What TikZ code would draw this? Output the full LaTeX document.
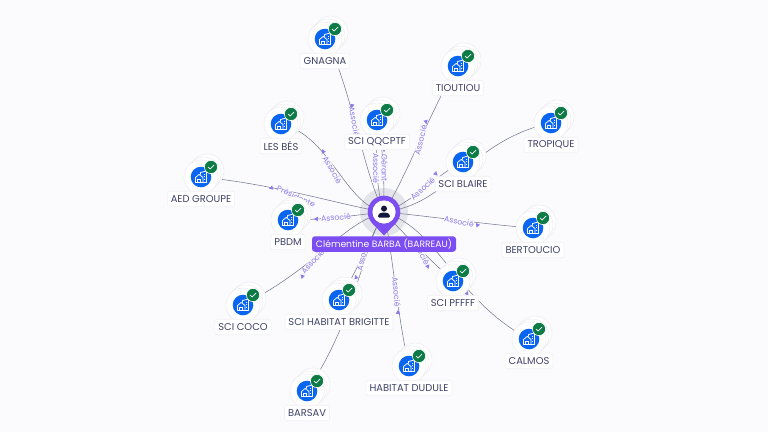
\documentclass[tikz,border=0pt]{standalone}
\usepackage{fontspec}
\setmainfont{Poppins}
\definecolor{bgc}{HTML}{FBFBFE}
\definecolor{edgec}{HTML}{787C92}
\definecolor{purp}{HTML}{7C4DF0}
\definecolor{elab}{HTML}{8E7AE8}
\definecolor{txtc}{HTML}{3D4266}
\definecolor{bluec}{HTML}{0A66F0}
\definecolor{greenc}{HTML}{0C7B46}
\definecolor{haloc}{HTML}{E4E5EA}
\definecolor{ringc}{HTML}{EEEEF2}
\definecolor{shadc}{HTML}{F1F1F5}
\definecolor{navyc}{HTML}{10183C}
\tikzset{
  conn/.style={draw=edgec,line width=.55pt},
  elabel/.style={text=elab,font=\fontsize{7.8}{8}\selectfont,inner sep=0pt,fill=bgc,text height=5.6pt,text depth=.6pt},
  entlabel/.style={text=txtc,font=\fontsize{9.9}{10}\selectfont,fill=white,rounded corners=2.5pt,inner xsep=3.5pt,minimum height=15.5pt,inner ysep=0pt,
     draw=shadc,line width=.6pt},
  stackc/.style={fill=white,draw=ringc,line width=.6pt},
}
% arrow mark: x, y, clockwise angle
\newcommand{\amark}[3]{\fill[elab,shift={(#1,#2)},rotate=#3] (-1.8,-2.2)--(2.2,0)--(-1.8,2.2)--cycle;}
% entity card: id, x, y, label
\newcommand{\cardx}[4]{%
  \begin{scope}[shift={(#2,#3)}]
    \filldraw[stackc] (6,-6) circle (17);
    \filldraw[stackc] (3,-3) circle (17);
    \filldraw[stackc] (0,0) circle (17);
    \fill[bluec] (0,0) circle (10.3);
    \draw[white,line width=.75pt,line join=round] (-5.5,5.5)--(-5.5,.5)--(-1.8,-2.6)--(2,.5)--(2,5.5)--cycle;
    \draw[white,line width=.75pt] (-3.2,5.5)--(-3.2,2.2)--(-.2,2.2)--(-.2,5.5);
    \draw[white,line width=.75pt,line join=round] (-.5,-2.5)--(-.5,-4.5)--(5.5,-6)--(5.5,5.5)--(2,5.5);
    \draw[white,line width=.7pt] (3.2,-2.8)--(4.4,-2.8) (3.2,-.4)--(4.4,-.4) (3.2,2)--(4.4,2);
    \filldraw[fill=greenc,draw=white,line width=.6pt] (10,-10) circle (6.6);
    \draw[white,line width=.7pt,line cap=round,line join=round] (7.2,-9.8)--(9.2,-8)--(13,-12);
  \end{scope}
  \node[entlabel] (#1l) at (#2,#3+22) {#4};
}
\begin{document}
\begin{tikzpicture}[x=1pt,y=-1pt]
\useasboundingbox (0,0) rectangle (768,432);
\fill[bgc] (0,0) rectangle (768,432);
\fill[haloc] (384,212) circle (24);
\coordinate (P) at (384,212);
\coordinate (gn) at (325,39);
\coordinate (ti) at (458,66);
\coordinate (qq) at (377,120);
\coordinate (le) at (281,124);
\coordinate (tr) at (551,123);
\coordinate (bl) at (463,162);
\coordinate (ae) at (201,177);
\coordinate (pb) at (288,220);
\coordinate (be) at (533,228);
\coordinate (pf) at (453,281);
\coordinate (ca) at (529,339);
\coordinate (co) at (243,305);
\coordinate (br) at (339,300);
\coordinate (du) at (409,366);
\coordinate (ba) at (307,391);
% connectors
\draw[conn] (P) .. controls (362,170) and (350,80) .. (gn);
\draw[conn] (P) .. controls (410,170) and (430,110) .. (ti);
\draw[conn] (P) .. controls (376,190) and (376,160) .. (qq);
\draw[conn] (P) .. controls (384,185) and (384,150) .. (qq);
\draw[conn] (P) .. controls (345,205) and (330,135) .. (le);
\draw[conn] (P) .. controls (410,205) and (435,175) .. (bl);
\draw[conn] (P) .. controls (450,205) and (470,140) .. (tr);
\draw[conn] (P) .. controls (340,205) and (280,185) .. (ae);
\draw[conn] (P) .. controls (350,216) and (320,220) .. (pb);
\draw[conn] (P) .. controls (340,225) and (320,265) .. (co);
\draw[conn] (P) .. controls (372,235) and (355,275) .. (br);
\draw[conn] (P) .. controls (362,250) and (355,320) .. (ba);
\draw[conn] (P) .. controls (392,250) and (398,320) .. (du);
\draw[conn] (P) .. controls (400,230) and (425,255) .. (pf);
\draw[conn] (P) .. controls (440,230) and (455,300) .. (ca);
\draw[conn] (P) .. controls (420,215) and (490,225) .. (be);
% connector labels
\node[elabel,rotate=-80] (l1) at (354,122) {Associé};
\node[elabel,rotate=76] (l2) at (421,140) {Associé};
\node[elabel,rotate=-90] (l3) at (375.5,168) {Associé};
\node[elabel,rotate=-90] (l4) at (384,168) {Gérant};
\node[elabel,rotate=-60] (l5) at (332,170) {Associé};
\node[elabel,rotate=42] (l6) at (423,189) {Associé};
\node[elabel,rotate=-24] (l7) at (296,197) {Présidente};
\node[elabel,rotate=5] (l8) at (336,218) {Associé};
\node[elabel,rotate=48] (l9) at (313,262) {Associé};
\node[elabel,rotate=78] (l10) at (363,256) {Associé};
\node[elabel,rotate=-85] (l11) at (396,292) {Associé};
\node[elabel,rotate=-62] (l12) at (420,251) {Associé};
\node[elabel,rotate=-10] (l13) at (459,222) {Associé};
% arrow marks
\amark{352}{106}{-100}
\amark{426}{122}{-75}
\amark{384}{150}{-90}
\amark{323}{152}{-125}
\amark{436}{174}{-45}
\amark{271}{188}{195}
\amark{316}{219}{180}
\amark{302}{276}{135}
\amark{356}{277}{105}
\amark{398}{312}{88}
\amark{428}{266}{50}
\amark{467}{293}{70}
\amark{478}{225}{8}
% entity cards
\cardx{gnagna}{325}{39}{GNAGNA}
\cardx{tioutiou}{458}{66}{TIOUTIOU}
\cardx{qqcptf}{377}{120}{SCI QQCPTF}
\cardx{lesbes}{281}{124}{LES BÉS}
\cardx{tropique}{551}{123}{TROPIQUE}
\cardx{blaire}{463}{162}{SCI BLAIRE}
\cardx{aed}{201}{177}{AED GROUPE}
\cardx{pbdm}{288}{220}{PBDM}
\cardx{bertoucio}{533}{228}{BERTOUCIO}
\cardx{pfffff}{453}{281}{SCI PFFFF}
\cardx{calmos}{529}{339}{CALMOS}
\cardx{coco}{243}{305}{SCI COCO}
\cardx{brigitte}{339}{300}{SCI HABITAT BRIGITTE}
\cardx{dudule}{409}{366}{HABITAT DUDULE}
\cardx{barsav}{307}{391}{BARSAV}
% central pin
\fill[purp] (372.5,223.5) -- (384,235.5) -- (395.5,223.5) -- cycle;
\fill[purp] (384,212) circle (16.3);
\fill[white] (384,212) circle (11.6);
\fill[navyc] (384,208.6) circle (3);
\fill[navyc,rounded corners=1.2pt] (378,217.6) -- (378,214.8) -- (381,212.6) -- (387,212.6) -- (390,214.8) -- (390,217.6) -- cycle;
\node[fill=purp,text=white,rounded corners=3pt,minimum width=144pt,minimum height=15.5pt,inner sep=0pt,font=\fontsize{9.2}{10}\selectfont] (main) at (384,244) {Clémentine BARBA (BARREAU)};
\end{tikzpicture}
\end{document}
